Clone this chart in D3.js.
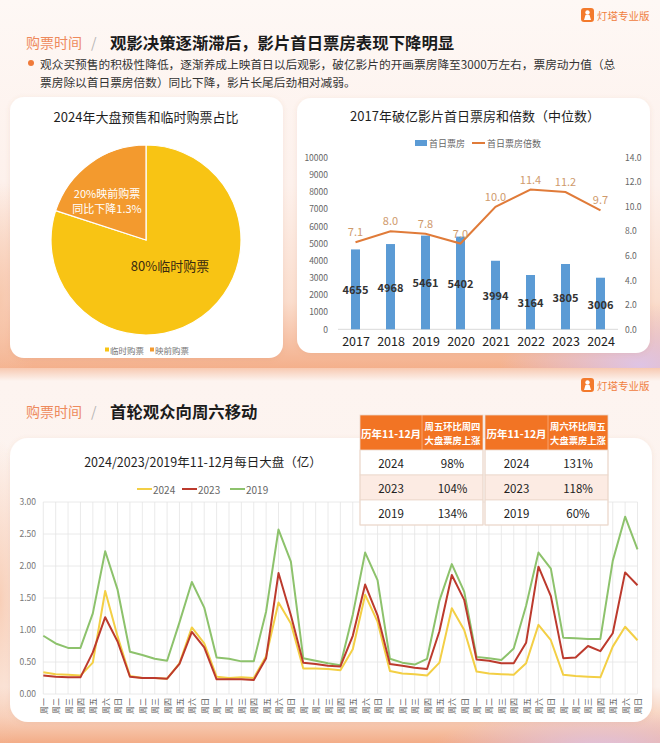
<!DOCTYPE html>
<html><head><meta charset="utf-8">
<script src="https://cdn.jsdelivr.net/npm/d3@7"></script>
<style>body{margin:0;background:#fff;} svg{display:block;} text{font-family:"Noto Sans CJK SC","Noto Sans",sans-serif;}</style>
</head><body><svg id="c" width="660" height="743"></svg>
<script>
// ---------------- data ----------------
const pieCategories = ["临时购票", "映前购票"];
const pieValues = [80, 20];

const barYears = ["2017","2018","2019","2020","2021","2022","2023","2024"];
const firstDayBox = [4655, 4968, 5461, 5402, 3994, 3164, 3805, 3006];
const boxMultiple = [7.1, 8.0, 7.8, 7.0, 10.0, 11.4, 11.2, 9.7];
const leftTicks = [0,1000,2000,3000,4000,5000,6000,7000,8000,9000,10000];
const rightTicks = [0,2,4,6,8,10,12,14];

const weekdayNames = ["周一","周二","周三","周四","周五","周六","周日"];
const lineYears = ["2024", "2023", "2019"];
const daily2024 = [0.34,0.31,0.30,0.29,0.49,1.61,0.90, 0.28,0.25,0.25,0.24,0.48,1.04,0.79, 0.27,0.25,0.26,0.25,0.59,1.43,1.10, 0.40,0.40,0.39,0.37,0.70,1.55,1.13, 0.36,0.32,0.31,0.29,0.49,1.34,1.00, 0.35,0.32,0.31,0.30,0.48,1.08,0.84, 0.30,0.28,0.27,0.26,0.74,1.05,0.84];
const daily2023 = [0.29,0.27,0.26,0.26,0.65,1.20,0.82, 0.27,0.25,0.25,0.24,0.47,0.97,0.73, 0.23,0.23,0.23,0.22,0.56,1.89,1.23, 0.49,0.47,0.44,0.43,0.91,1.71,1.23, 0.47,0.44,0.41,0.39,0.98,1.86,1.47, 0.54,0.52,0.48,0.48,0.80,1.99,1.53, 0.56,0.57,0.75,0.67,0.95,1.90,1.70];
const daily2019 = [0.91,0.79,0.72,0.72,1.26,2.23,1.63, 0.66,0.61,0.55,0.52,1.12,1.75,1.35, 0.57,0.55,0.51,0.51,1.29,2.57,2.07, 0.56,0.52,0.48,0.45,1.24,2.21,1.78, 0.55,0.49,0.46,0.55,1.46,2.03,1.60, 0.58,0.56,0.53,0.71,1.38,2.21,1.96, 0.88,0.87,0.86,0.86,2.08,2.77,2.26];
const yTicksLine = [0, 0.5, 1, 1.5, 2, 2.5, 3];

const tableYears = ["2024", "2023", "2019"];
const friVsThu = ["98%", "104%", "134%"];
const satVsFri = ["131%", "118%", "60%"];

// ---------------- drawing ----------------
const svg = d3.select("#c");
const defs = svg.append("defs");
function linGrad(id, stops, x1=0,y1=0,x2=0,y2=1){
  const g = defs.append("linearGradient").attr("id",id).attr("x1",x1).attr("y1",y1).attr("x2",x2).attr("y2",y2);
  stops.forEach(s=>g.append("stop").attr("offset",s[0]).attr("stop-color",s[1]).attr("stop-opacity", s[2]===undefined?1:s[2]));
}
function radGrad(id, stops){
  const g = defs.append("radialGradient").attr("id",id);
  stops.forEach(s=>g.append("stop").attr("offset",s[0]).attr("stop-color",s[1]).attr("stop-opacity", s[2]===undefined?1:s[2]));
}
linGrad("bg1", [[0,"#FEF8F5"],[0.5,"#FDF1EC"],[0.82,"#FADDCD"],[1,"#F4B08C"]]);
linGrad("bg2", [[0,"#F7C9B1"],[0.035,"#FDF4F0"],[0.85,"#FCF2ED"],[0.93,"#F8D3BF"],[1,"#F3AD88"]]);
radGrad("lav", [[0,"#DCC6EE",0.9],[1,"#DCC6EE",0]]);
radGrad("peachL", [[0,"#F6BFA0",0.7],[1,"#F6BFA0",0]]);
const f = defs.append("filter").attr("id","sh").attr("x","-10%").attr("y","-10%").attr("width","120%").attr("height","120%");
f.append("feDropShadow").attr("dx",0).attr("dy",1).attr("stdDeviation",2.5).attr("flood-color","#C07050").attr("flood-opacity",0.12);

// backgrounds
svg.append("rect").attr("x",0).attr("y",0).attr("width",660).attr("height",368).attr("fill","url(#bg1)");
svg.append("ellipse").attr("cx",640).attr("cy",365).attr("rx",140).attr("ry",60).attr("fill","url(#lav)");
svg.append("ellipse").attr("cx",0).attr("cy",300).attr("rx",40).attr("ry",120).attr("fill","url(#peachL)");
svg.append("rect").attr("x",0).attr("y",368).attr("width",660).attr("height",375).attr("fill","url(#bg2)");
svg.append("ellipse").attr("cx",600).attr("cy",750).attr("rx",170).attr("ry",40).attr("fill","url(#lav)");
svg.append("ellipse").attr("cx",0).attr("cy",600).attr("rx",30).attr("ry",160).attr("fill","url(#peachL)");

// logo + headers
function logo(y){
  const g = svg.append("g");
  g.append("rect").attr("x",581).attr("y",y-7).attr("width",13).attr("height",14).attr("rx",3).attr("fill","#F37A2C");
  g.append("circle").attr("cx",587.5).attr("cy",y-2.5).attr("r",2.2).attr("fill","#fff");
  g.append("path").attr("d",`M584 ${y+5} L585.5 ${y} L589.5 ${y} L591 ${y+5} Z`).attr("fill","#fff");
  g.append("text").attr("x",597).attr("y",y).attr("dominant-baseline","central").attr("font-size",10.5).attr("fill","#F0803F").text("灯塔专业版");
}
function header(y, title){
  svg.append("text").attr("x",26).attr("y",y).attr("dominant-baseline","central").attr("font-size",14).attr("fill","#EE8A5C").text("购票时间");
  svg.append("text").attr("x",91).attr("y",y).attr("dominant-baseline","central").attr("font-size",14).attr("fill","#B5B5B5").text("/");
  svg.append("text").attr("x",110).attr("y",y).attr("dominant-baseline","central").attr("font-size",16.4).attr("font-weight","bold").attr("fill","#1B1B1B").text(title);
}
logo(15);
header(42, "观影决策逐渐滞后，影片首日票房表现下降明显");
svg.append("circle").attr("cx",31).attr("cy",63).attr("r",3).attr("fill","#F07A3A");
svg.append("text").attr("x",40).attr("y",63).attr("dominant-baseline","central").attr("font-size",11.7).attr("fill","#333").text("观众买预售的积极性降低，逐渐养成上映首日以后观影，破亿影片的开画票房降至3000万左右，票房动力值（总");
svg.append("text").attr("x",40).attr("y",81).attr("dominant-baseline","central").attr("font-size",11.7).attr("fill","#333").text("票房除以首日票房倍数）同比下降，影片长尾后劲相对减弱。");

// panels
svg.append("rect").attr("x",10).attr("y",97).attr("width",273).attr("height",261).attr("rx",14).attr("fill","#fff").attr("filter","url(#sh)");
svg.append("rect").attr("x",297).attr("y",98).attr("width",353).attr("height",255).attr("rx",14).attr("fill","#fff").attr("filter","url(#sh)");

// ---------- pie ----------
const pieColors = ["#F8C414", "#F39A2E"];
const pieG = svg.append("g").attr("transform","translate(146,240)");
const arcs = d3.pie().sort(null)(pieValues);
const arcGen = d3.arc().innerRadius(0).outerRadius(95);
pieG.selectAll("path").data(arcs).join("path").attr("d",arcGen).attr("fill",(d,i)=>pieColors[i]).attr("stroke","#fff").attr("stroke-width",1.2);
svg.append("text").attr("x",146).attr("y",116).attr("text-anchor","middle").attr("dominant-baseline","central").attr("font-size",13).attr("fill","#1f1f1f").text("2024年大盘预售和临时购票占比");
svg.append("text").attr("x",107).attr("y",193).attr("text-anchor","middle").attr("dominant-baseline","central").attr("font-size",11).attr("fill","#fff").text(pieValues[1]+"%映前购票");
svg.append("text").attr("x",107).attr("y",208).attr("text-anchor","middle").attr("dominant-baseline","central").attr("font-size",11).attr("fill","#fff").text("同比下降1.3%");
svg.append("text").attr("x",170).attr("y",265).attr("text-anchor","middle").attr("dominant-baseline","central").attr("font-size",13).attr("fill","#3a2a10").text(pieValues[0]+"%临时购票");
const pl = svg.append("g");
[[105,110],[150,155]].forEach((p,i)=>{
  pl.append("rect").attr("x",p[0]).attr("y",347.5).attr("width",4).attr("height",4).attr("fill",pieColors[i]);
  pl.append("text").attr("x",p[1]).attr("y",350).attr("dominant-baseline","central").attr("font-size",8.5).attr("fill","#777").text(pieCategories[i]);
});

// ---------- bar + line combo ----------
const bx = d3.scalePoint().domain(barYears).range([338,618]).padding(0.5);
const yL = d3.scaleLinear().domain([0,10000]).range([329.3,157.7]);
const yR = d3.scaleLinear().domain([0,14]).range([329.3,157.7]);
svg.append("text").attr("x",475).attr("y",115).attr("text-anchor","middle").attr("dominant-baseline","central").attr("font-size",13).attr("fill","#1f1f1f").text("2017年破亿影片首日票房和倍数（中位数）");
// legend
svg.append("rect").attr("x",415).attr("y",140).attr("width",12).attr("height",6).attr("fill","#5B9BD5");
svg.append("text").attr("x",429).attr("y",143).attr("dominant-baseline","central").attr("font-size",9).attr("fill","#666").text("首日票房");
svg.append("line").attr("x1",472).attr("x2",485).attr("y1",143).attr("y2",143).attr("stroke","#E07B39").attr("stroke-width",2);
svg.append("text").attr("x",487).attr("y",143).attr("dominant-baseline","central").attr("font-size",9).attr("fill","#666").text("首日票房倍数");
// axes
const axL = svg.append("g").attr("transform","translate(330,0)").call(d3.axisLeft(yL).tickValues(leftTicks).tickFormat(d3.format("d")).tickSize(0).tickPadding(2));
axL.select(".domain").remove();
axL.selectAll("text").attr("font-size",8.5).attr("fill","#666").attr("font-family",null);
const axR = svg.append("g").attr("transform","translate(623,0)").call(d3.axisRight(yR).tickValues(rightTicks).tickFormat(d3.format(".1f")).tickSize(0).tickPadding(2));
axR.select(".domain").remove();
axR.selectAll("text").attr("font-size",8.5).attr("fill","#666").attr("font-family",null);
svg.append("line").attr("x1",338).attr("x2",618).attr("y1",329.3).attr("y2",329.3).attr("stroke","#D9D9D9");
const axB = svg.append("g").attr("transform","translate(0,329.3)").call(d3.axisBottom(bx).tickSize(0).tickPadding(8));
axB.select(".domain").remove();
axB.selectAll("text").attr("font-size",12.5).attr("fill","#222").attr("font-family",null);
// bars
svg.append("g").selectAll("rect").data(barYears).join("rect")
  .attr("x",d=>bx(d)-4.5).attr("width",9)
  .attr("y",(d,i)=>yL(firstDayBox[i])).attr("height",(d,i)=>yL(0)-yL(firstDayBox[i]))
  .attr("fill","#5B9BD5");
svg.append("g").selectAll("text").data(barYears).join("text")
  .attr("x",d=>bx(d)).attr("y",(d,i)=>(yL(firstDayBox[i])+yL(0))/2)
  .attr("text-anchor","middle").attr("dominant-baseline","central")
  .attr("font-size",11).attr("font-weight","bold").attr("fill","#333")
  .text((d,i)=>firstDayBox[i]);
// line
svg.append("path").datum(barYears).attr("fill","none").attr("stroke","#E07B39").attr("stroke-width",2)
  .attr("d", d3.line().x(d=>bx(d)).y((d,i)=>yR(boxMultiple[i])));
svg.append("g").selectAll("text").data(barYears).join("text")
  .attr("x",d=>bx(d)).attr("y",(d,i)=>yR(boxMultiple[i])-11)
  .attr("text-anchor","middle").attr("dominant-baseline","central")
  .attr("font-size",11).attr("fill","#CF9A6C")
  .text((d,i)=>d3.format(".1f")(boxMultiple[i]));

// ---------- section 2 ----------
logo(385);
header(411, "首轮观众向周六移动");
svg.append("rect").attr("x",10).attr("y",438).attr("width",642).attr("height",284).attr("rx",18).attr("fill","#fff").attr("filter","url(#sh)");

svg.append("text").attr("x",203).attr("y",461).attr("text-anchor","middle").attr("dominant-baseline","central").attr("font-size",12.5).attr("fill","#1f1f1f").text("2024/2023/2019年11-12月每日大盘（亿）");

const nDays = daily2024.length;
const dayIdx = d3.range(nDays);
const lx = d3.scalePoint().domain(dayIdx).range([43.3,637.5]);
const ly = d3.scaleLinear().domain([0,3]).range([694,502]);
const grid = svg.append("g").attr("stroke","#E4E4E4").attr("stroke-width",0.8);
grid.selectAll("line.h").data(yTicksLine).join("line").attr("class","h")
  .attr("x1",43.3).attr("x2",637.5).attr("y1",d=>ly(d)).attr("y2",d=>ly(d));
grid.selectAll("line.v").data(dayIdx).join("line").attr("class","v")
  .attr("x1",d=>lx(d)).attr("x2",d=>lx(d)).attr("y1",ly(3)).attr("y2",ly(0));
const ayl = svg.append("g").attr("transform","translate(43,0)").call(d3.axisLeft(ly).tickValues(yTicksLine).tickFormat(d3.format(".2f")).tickSize(0).tickPadding(7));
ayl.select(".domain").remove();
ayl.selectAll("text").attr("font-size",8.5).attr("fill","#777").attr("font-family",null);
svg.append("g").selectAll("text").data(dayIdx).join("text")
  .attr("transform",d=>`translate(${lx(d)},698) rotate(-90)`)
  .attr("text-anchor","end").attr("dominant-baseline","central")
  .attr("font-size",8).attr("fill","#555")
  .text(d=>weekdayNames[d % 7]);

const lineColors = {"2024":"#F3CF45","2023":"#BC3A2D","2019":"#8DC26C"};
const lineData = {"2024":daily2024,"2023":daily2023,"2019":daily2019};
const lg = d3.line().x((d,i)=>lx(i)).y(d=>ly(d));
["2019","2024","2023"].forEach(k=>{
  svg.append("path").datum(lineData[k]).attr("fill","none").attr("stroke",lineColors[k]).attr("stroke-width",2).attr("stroke-linejoin","round").attr("d",lg);
});
[[137,153],[182,198],[230,246]].forEach((p,i)=>{
  const k = lineYears[i];
  svg.append("line").attr("x1",p[0]).attr("x2",p[0]+15).attr("y1",489).attr("y2",489).attr("stroke",lineColors[k]).attr("stroke-width",2);
  svg.append("text").attr("x",p[1]).attr("y",489).attr("dominant-baseline","central").attr("font-size",10).attr("fill","#666").text(k);
});

// ---------- tables ----------
function table(x0, xs, x1, title2a, title2b, vals){
  const g = svg.append("g");
  const rowsY = [450,475,500,525];
  const fills = ["#fff","#FCEBE3","#fff"];
  g.append("rect").attr("x",x0).attr("y",415).attr("width",x1-x0).attr("height",35).attr("fill","#F27424");
  g.append("line").attr("x1",xs).attr("x2",xs).attr("y1",415).attr("y2",450).attr("stroke","#F7A36E").attr("stroke-width",1);
  tableYears.forEach((yr,i)=>{
    g.append("rect").attr("x",x0).attr("y",rowsY[i]).attr("width",x1-x0).attr("height",25).attr("fill",fills[i]).attr("stroke","#EAD8CB").attr("stroke-width",0.8);
    g.append("text").attr("x",(x0+xs)/2).attr("y",rowsY[i]+12.5).attr("text-anchor","middle").attr("dominant-baseline","central").attr("font-size",11.5).attr("fill","#222").text(yr);
    g.append("text").attr("x",(xs+x1)/2).attr("y",rowsY[i]+12.5).attr("text-anchor","middle").attr("dominant-baseline","central").attr("font-size",11.5).attr("fill","#222").text(vals[i]);
  });
  g.append("rect").attr("x",x0).attr("y",415).attr("width",x1-x0).attr("height",110).attr("fill","none").attr("stroke","#EAD8CB").attr("stroke-width",0.8);
  g.append("text").attr("x",(x0+xs)/2).attr("y",433).attr("text-anchor","middle").attr("dominant-baseline","central").attr("font-size",10.5).attr("font-weight","bold").attr("fill","#fff").text("历年11-12月");
  g.append("text").attr("x",(xs+x1)/2).attr("y",426).attr("text-anchor","middle").attr("dominant-baseline","central").attr("font-size",9.3).attr("font-weight","bold").attr("fill","#fff").text(title2a);
  g.append("text").attr("x",(xs+x1)/2).attr("y",440).attr("text-anchor","middle").attr("dominant-baseline","central").attr("font-size",9.3).attr("font-weight","bold").attr("fill","#fff").text(title2b);
}
table(360, 422, 483, "周五环比周四", "大盘票房上涨", friVsThu);
table(485, 548, 608, "周六环比周五", "大盘票房上涨", satVsFri);
</script></body></html>
